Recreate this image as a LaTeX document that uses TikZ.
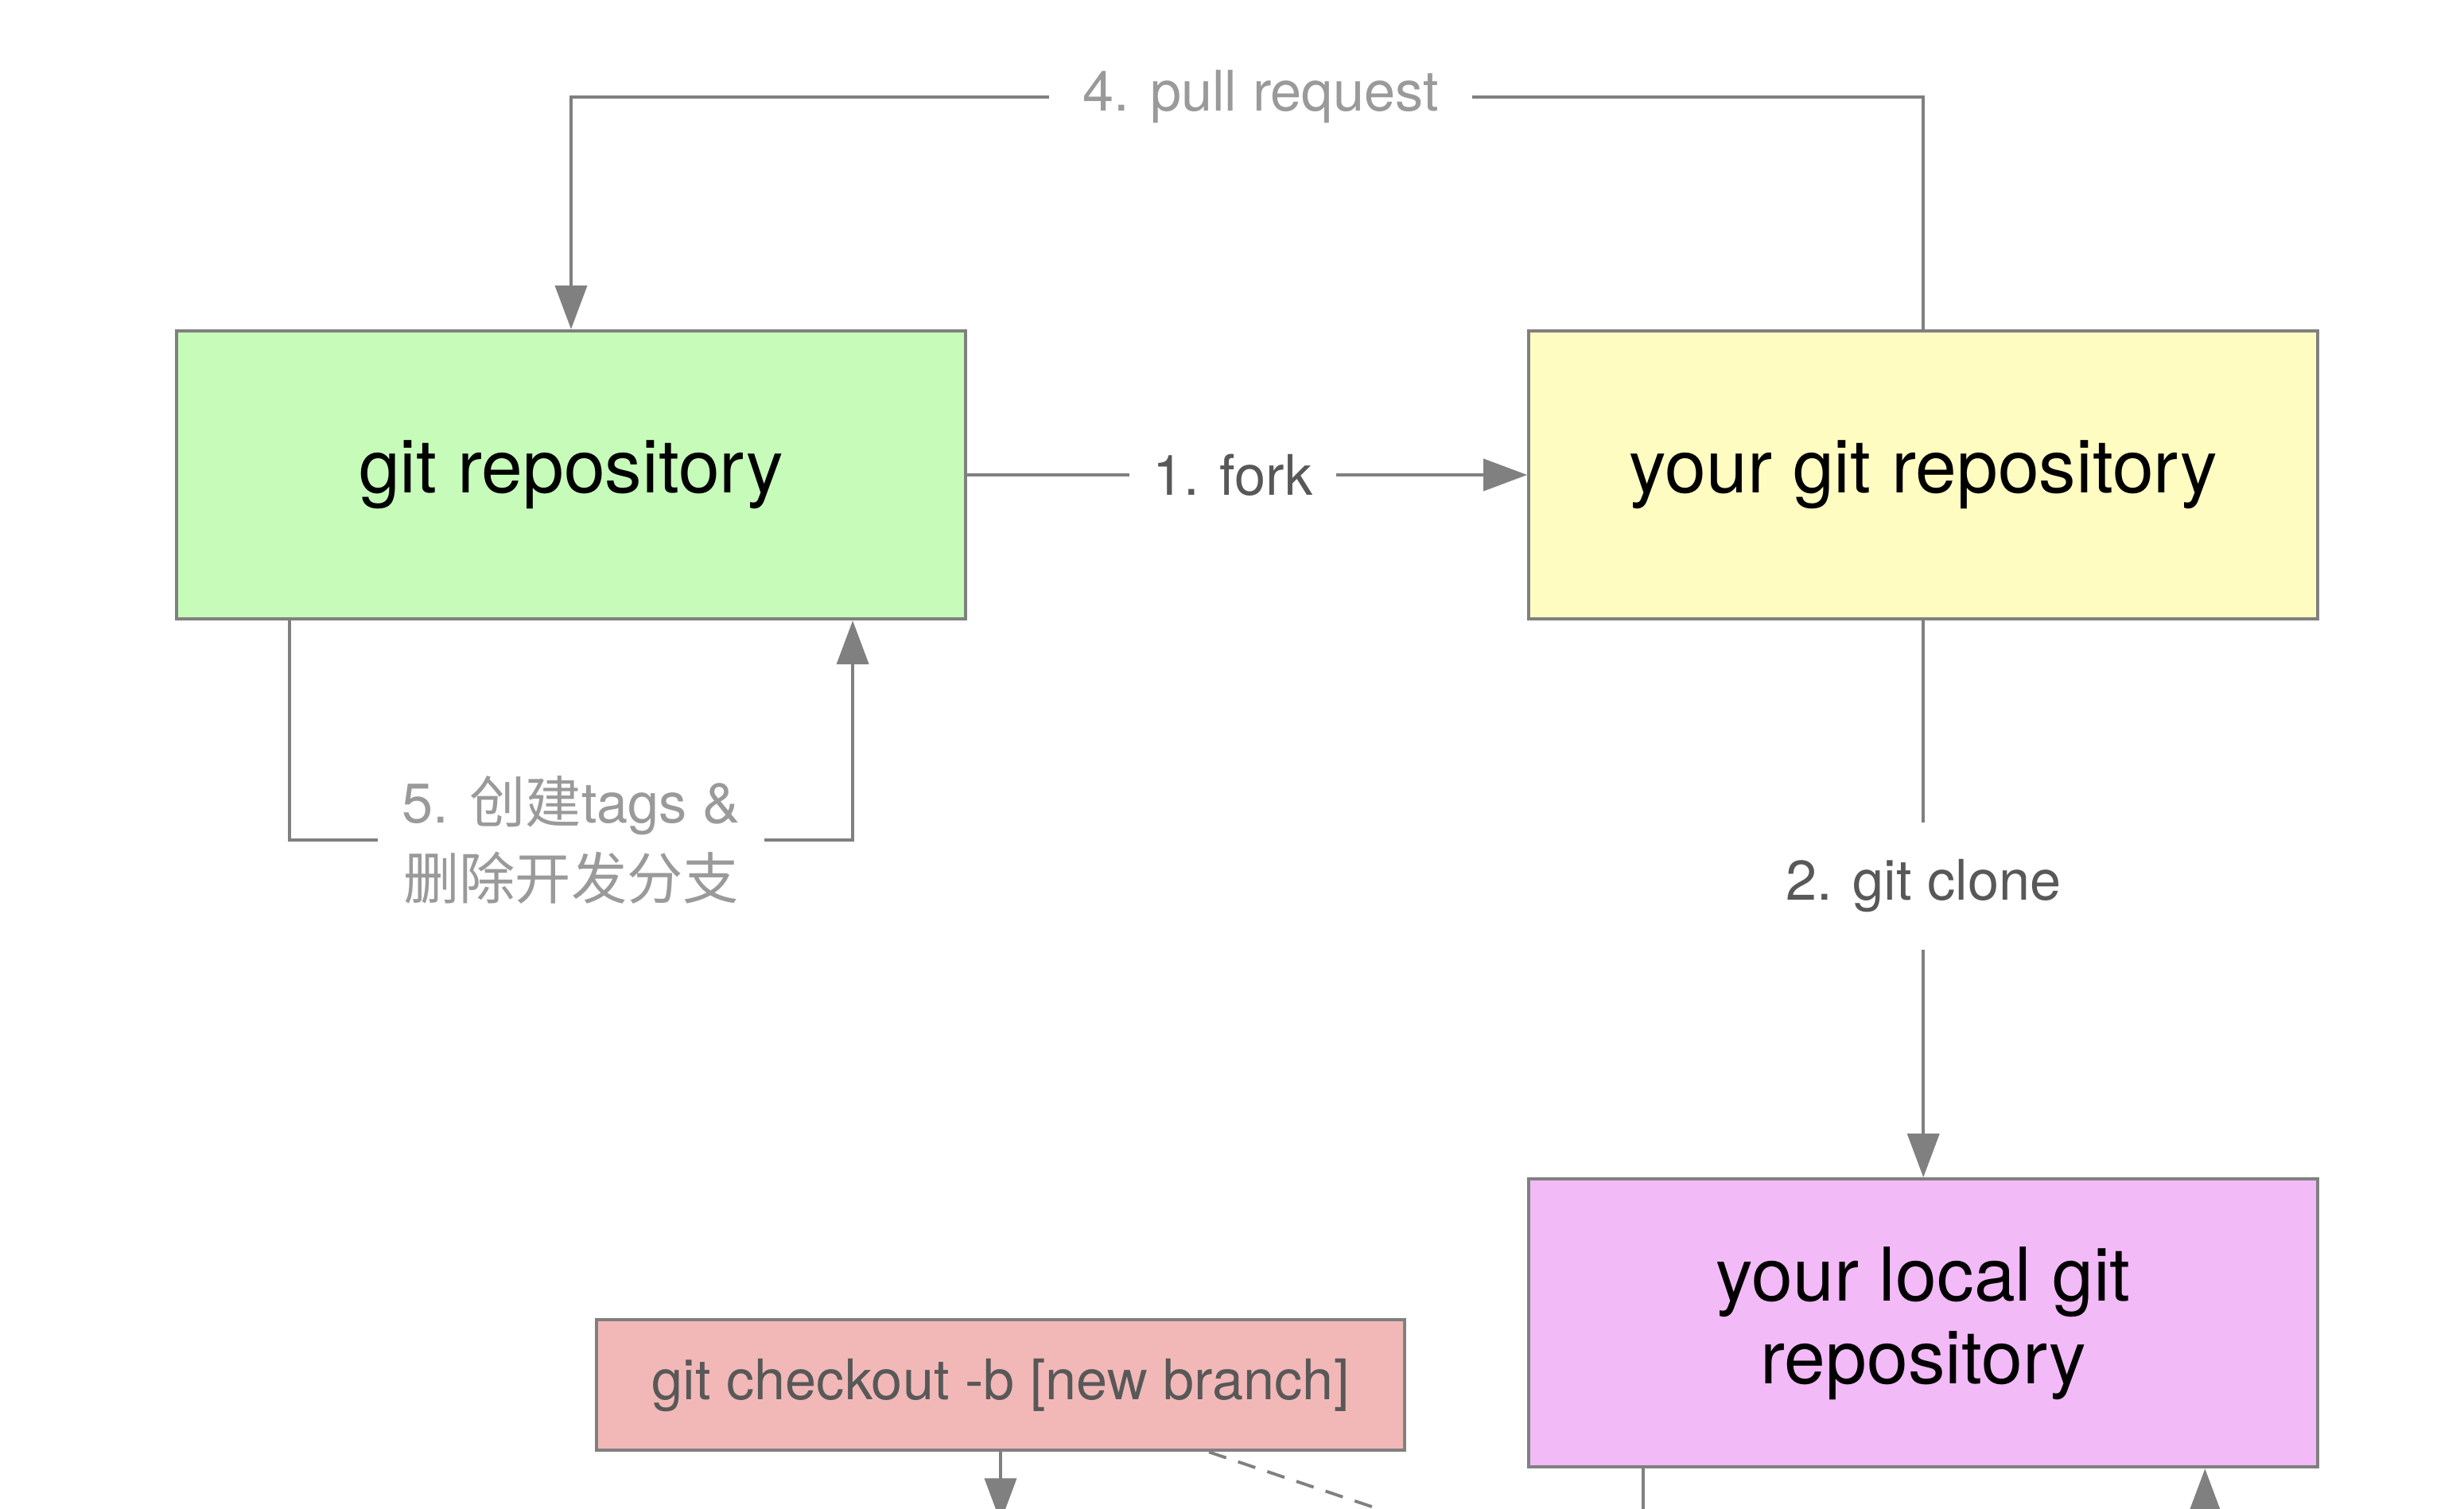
\documentclass[tikz,border=0pt]{standalone}
\usepackage{fontspec}
\setmainfont{TeX Gyre Heros}
\newfontfamily\cjk{Noto Sans CJK SC}
\usepackage{xcolor}
\usepackage{tikz}
\usetikzlibrary{positioning, arrows.meta}
\definecolor{upgreen}{HTML}{C6FBBA}
\definecolor{forkyellow}{HTML}{FFFCC1}
\definecolor{localpink}{HTML}{F2BAF6}
\definecolor{branchred}{HTML}{F2B8B8}
\definecolor{edgegray}{HTML}{808080}
\definecolor{darklbl}{HTML}{585858}
\definecolor{lightlbl}{HTML}{9A9A9A}
\tikzset{
	>={Triangle[length=0.55cm, width=0.4cm]},
	align=center,
	repobox/.style={draw=edgegray, line width=1.2pt, minimum width=9.92cm, minimum height=3.62cm, font=\fontsize{26.5}{29.6}\selectfont},
	flow/.style={draw=edgegray, line width=1.1pt},
	lbl/.style={fill=white, font=\fontsize{20}{27.3}\selectfont, inner xsep=0.3cm, inner ysep=0.1cm}
}
\newcommand{\zh}[1]{{\cjk #1}}

\begin{document}
\begin{tikzpicture}
	\useasboundingbox (0,0) rectangle (30.98,-18.96);
	\clip (0,0) rectangle (30.98,-18.96);
	
	\node[repobox, fill=upgreen] (upstream) at (7.18,-5.97) {git repository};
	\node[repobox, fill=forkyellow, right=7.04cm of upstream] (origin) {your git repository};
	\node[repobox, fill=localpink, below=7.0cm of origin] (local) {your local git\\repository};
	\node[draw=edgegray, line width=1.2pt, fill=branchred, text=darklbl, minimum width=10.16cm, minimum height=1.64cm, font=\fontsize{20}{24}\selectfont, left=1.52cm of local, yshift=-0.78cm] (checkout) {git checkout -b [new branch]};
	
	% free ends below the cut
	\coordinate (chkend) at ([yshift=-0.88cm]checkout.south);
	\coordinate (dashend) at ([xshift=5.6cm, yshift=-1cm]checkout.south);
	\coordinate (localdown) at ([xshift=1.46cm, yshift=-1cm]local.south west);
	\coordinate (localup) at ([xshift=-1.44cm, yshift=-1cm]local.south east);
	
	\draw[flow, ->]
	(upstream) -- node[lbl, text=darklbl, pos=0.474, inner xsep=0.29cm]{1. fork} (origin);
	\draw[flow, ->]
	(origin) -- node[lbl, text=darklbl, pos=0.477, inner ysep=0.47cm]{2. git clone} (local);
	\draw[flow, ->]
	(origin.north) -- ++(0,2.92) -| node[lbl, text=lightlbl, pos=0.245, inner xsep=0.42cm]{4. pull request} (upstream.north);
	\draw[flow, ->]
	([xshift=1.44cm]upstream.south west) -- ++(0,-2.76) -| node[lbl, text=lightlbl, pos=0.25, inner xsep=0.31cm]{5. \zh{创建}tags \&\\\zh{删除开发分支}} ([xshift=-1.44cm]upstream.south east);
	
	\draw[flow, ->] (checkout) -- (chkend);
	\draw[flow, dash pattern=on 6.5pt off 4.5pt] ([xshift=2.62cm]checkout.south) -- (dashend);
	\draw[flow] ([xshift=1.46cm]local.south west) -- (localdown);
	\draw[flow, ->] (localup) -- ([xshift=-1.44cm]local.south east);
\end{tikzpicture}
\end{document}
